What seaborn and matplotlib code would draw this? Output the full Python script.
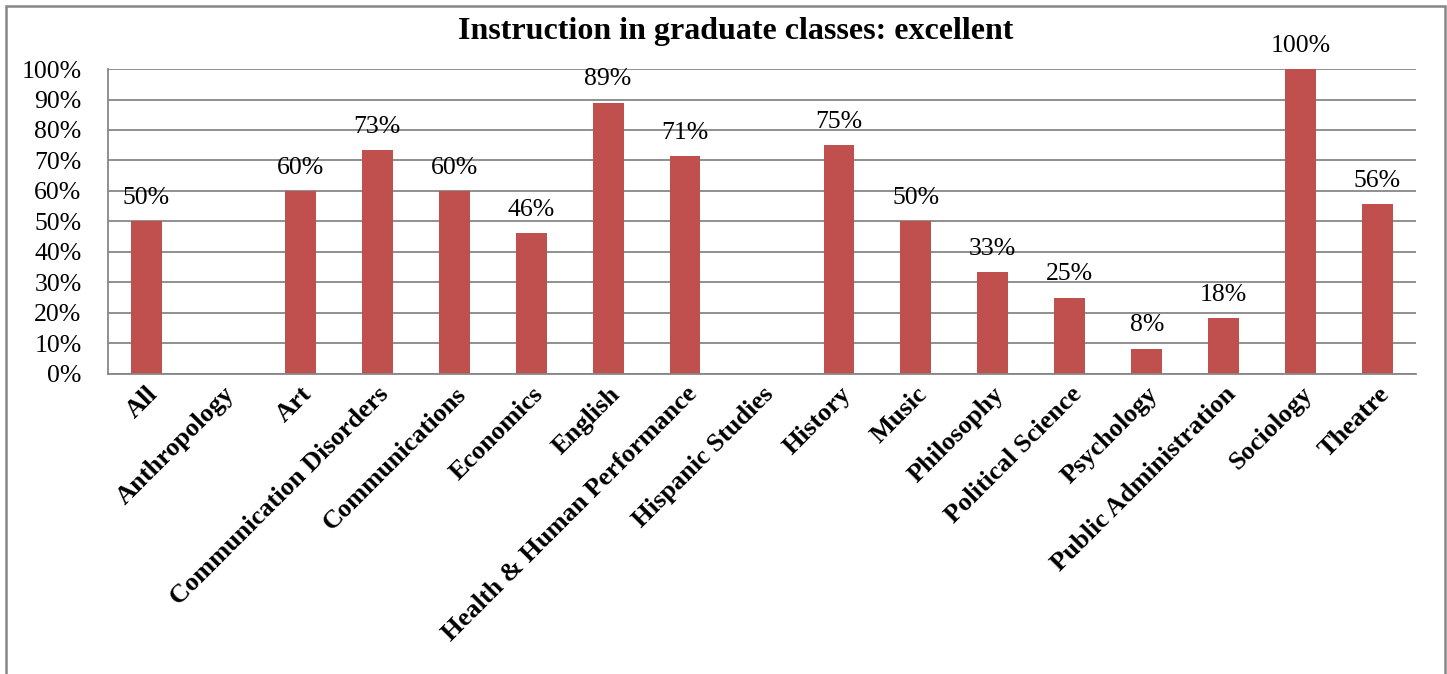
import numpy as np
import pandas as pd
import seaborn as sns
import matplotlib.pyplot as plt
from matplotlib.patches import Rectangle
from matplotlib.ticker import PercentFormatter

# data
categories = ["All", "Anthropology", "Art", "Communication Disorders", "Communications",
              "Economics", "English", "Health & Human Performance", "Hispanic Studies",
              "History", "Music", "Philosophy", "Political Science", "Psychology",
              "Public Administration", "Sociology", "Theatre"]
values = [0.50, np.nan, 0.60, 0.733, 0.60, 0.462, 0.889, 0.714, np.nan,
          0.75, 0.50, 0.333, 0.25, 0.083, 0.182, 1.00, 0.556]
title = "Instruction in graduate classes: excellent"

df = pd.DataFrame({"dept": categories, "share": values})

sns.set_style("white", {"text.color": "black", "xtick.color": "black", "ytick.color": "black"})
plt.rcParams["font.family"] = ["Liberation Serif", "DejaVu Serif"]

fig = plt.figure(figsize=(14.47, 6.74), dpi=100)
ax = fig.add_axes([108 / 1447, 1 - 374 / 674, (1416 - 108) / 1447, (374 - 69) / 674])

sns.barplot(data=df, x="dept", y="share", order=categories, color="#C0504D",
            saturation=1, width=0.4, linewidth=0, ax=ax)

gray = "#878787"
ax.set_ylim(0, 1)
ax.set_xlim(-0.5, len(categories) - 0.5)
ax.set_yticks(np.arange(0, 1.01, 0.1))
ax.yaxis.set_major_formatter(PercentFormatter(1.0, decimals=0))
ax.yaxis.grid(True, color=gray, linewidth=1.3)
ax.set_axisbelow(True)
ax.set_xlabel("")
ax.set_ylabel("")

for side in ["top", "right"]:
    ax.spines[side].set_visible(False)
for side in ["left", "bottom"]:
    ax.spines[side].set_color(gray)
    ax.spines[side].set_linewidth(1.3)

ax.tick_params(axis="y", length=6, color=gray, width=1.3, pad=13, labelsize=18.5,
               labelcolor="black")
ax.tick_params(axis="x", which="major", length=0, pad=6, labelcolor="black")
ax.set_xticks(np.arange(-0.5, len(categories), 1), minor=True)
ax.tick_params(axis="x", which="minor", length=5, color=gray, width=1.3)
plt.setp(ax.get_xticklabels(), rotation=45, ha="right", rotation_mode="anchor",
         fontweight="bold", fontsize=19)

for i, v in enumerate(values):
    if not np.isnan(v):
        ax.annotate(f"{v:.0%}", (i, v), xytext=(0, 9), textcoords="offset points",
                    ha="center", va="bottom", fontsize=18.5, color="black",
                    annotation_clip=False)

fig.text(736 / 1447, 1 - 31 / 674, title, ha="center", va="center",
         fontsize=23, fontweight="bold", color="black")

fig.add_artist(Rectangle((6 / 1447, -0.1), (1445 - 6) / 1447, 1.1 - 6 / 674,
                         transform=fig.transFigure, fill=False,
                         edgecolor=gray, linewidth=1.8))

fig.savefig("out.png", dpi=100)
